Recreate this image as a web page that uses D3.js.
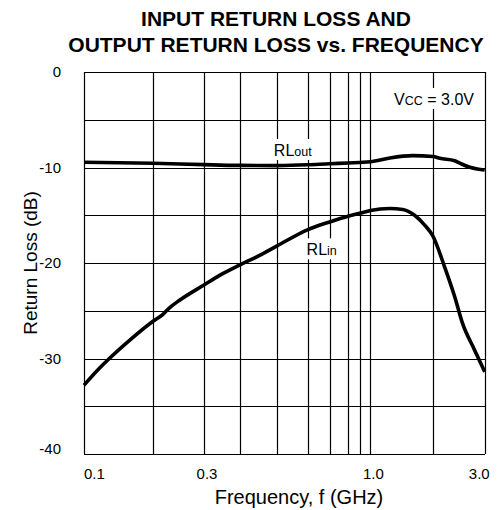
<!DOCTYPE html>
<html>
<head>
<meta charset="utf-8">
<script src="https://cdn.jsdelivr.net/npm/d3@7"></script>
<style>
  body { margin: 0; background: #fff; }
  svg text { font-family: "Liberation Sans", Arial, sans-serif; fill: #000; }
</style>
</head>
<body>
<svg id="chart" width="503" height="510"></svg>
<script>
// grid frequencies (GHz) and where the sheet draws them (px from plot left)
var gridFreqs = [0.1, 0.2, 0.3, 0.4, 0.5, 0.6, 0.7, 0.8, 0.9, 1.0, 2.0, 3.0];
var gridOffsets = [0, 69, 120, 156, 193.2, 224, 245.7, 264, 275.7, 286.4, 349, 400.7];
var xTickValues = [0.1, 0.3, 1.0, 3.0];
var xTickLabels = ["0.1", "0.3", "1.0", "3.0"];
var yTicks = [0, -5, -10, -15, -20, -25, -30, -35, -40];
var yTickLabels = ["0", "-10", "-20", "-30", "-40"];

var rlOutFreq = [0.1, 0.2, 0.3, 0.4, 0.5, 0.6, 0.7, 0.8, 0.9, 1.0, 1.24, 1.6, 2.0, 2.11, 2.37, 2.5, 2.67, 2.83, 3.0];
var rlOutDb   = [-9.45, -9.55, -9.7, -9.78, -9.8, -9.72, -9.6, -9.53, -9.47, -9.4, -9.0, -8.76, -8.85, -9.04, -9.29, -9.63, -9.98, -10.16, -10.26];

var rlInFreq = [0.1, 0.117, 0.129, 0.158, 0.2, 0.216, 0.228, 0.247, 0.3, 0.34, 0.4, 0.45, 0.5, 0.6, 0.7, 0.8, 0.9, 1.0, 1.24, 1.43, 1.63, 1.82, 2.0, 2.19, 2.37, 2.52, 2.77, 3.0];
var rlInDb   = [-32.8, -31.0, -30.0, -28.1, -26.1, -25.4, -24.7, -23.9, -22.3, -21.3, -20.2, -19.2, -18.2, -16.5, -15.7, -15.1, -14.8, -14.5, -14.3, -14.4, -15.0, -16.0, -17.2, -20.4, -23.5, -26.3, -29.1, -31.4];

var margin = { top: 72, right: 18, bottom: 56, left: 84 },
    W = 503, H = 510,
    iw = W - margin.left - margin.right,
    ih = H - margin.top - margin.bottom;

var svg = d3.select('#chart');
var g = svg.append('g').attr('transform', 'translate(' + margin.left + ',' + margin.top + ')');

// log-ish frequency axis, piecewise so it follows the printed grid
var x = (function() {
  var s = d3.scaleLinear()
    .domain(gridFreqs.map(Math.log10))
    .range(gridOffsets);
  return function(f) { return s(Math.log10(f)); };
})();

var y = d3.scaleLinear().domain([0, -40]).range([0, ih]);

// grid
g.append('g').selectAll('line.v')
  .data(gridFreqs)
  .enter().append('line')
    .attr('x1', function(d) { return Math.round(x(d)) + 0.5; })
    .attr('x2', function(d) { return Math.round(x(d)) + 0.5; })
    .attr('y1', 0).attr('y2', ih)
    .attr('stroke', '#000').attr('stroke-width', 1.2);

g.append('g').selectAll('line.h')
  .data(yTicks)
  .enter().append('line')
    .attr('x1', 0).attr('x2', iw)
    .attr('y1', function(d) { return Math.round(y(d)) + 0.5; })
    .attr('y2', function(d) { return Math.round(y(d)) + 0.5; })
    .attr('stroke', '#000').attr('stroke-width', 1.2);

// curves
var line = d3.line()
  .x(function(d) { return x(d[0]); })
  .y(function(d) { return y(d[1]); })
  .curve(d3.curveMonotoneX);

g.append('path')
  .datum(d3.zip(rlOutFreq, rlOutDb))
  .attr('d', line)
  .attr('fill', 'none').attr('stroke', '#000').attr('stroke-width', 3.6);

g.append('path')
  .datum(d3.zip(rlInFreq, rlInDb))
  .attr('d', line)
  .attr('fill', 'none').attr('stroke', '#000').attr('stroke-width', 3.6);

// labels with white backing
function label(f, db, main, sub, rest) {
  var grp = g.append('g');
  var t = grp.append('text')
    .attr('x', x(f)).attr('y', y(db))
    .style('font-size', '16px');
  t.append('tspan').text(main);
  t.append('tspan').style('font-size', '12.5px').text(sub);
  if (rest) t.append('tspan').text(rest);
  var b = t.node().getBBox();
  grp.insert('rect', 'text')
    .attr('x', b.x - 4).attr('y', b.y - 3)
    .attr('width', b.width + 8).attr('height', b.height + 4)
    .attr('fill', '#fff');
}
label(0.49, -8.8, 'RL', 'out');
label(0.595, -19.2, 'RL', 'in');
label(1.3, -3.45, 'V', 'CC', ' = 3.0V');

// y tick labels
svg.append('g').selectAll('text')
  .data(yTickLabels)
  .enter().append('text')
    .attr('x', 61)
    .attr('y', function(d, i) { return margin.top + y(+d) + (i === yTickLabels.length - 1 ? 0 : 5); })
    .attr('text-anchor', 'end')
    .style('font-size', '15px')
    .text(function(d) { return d; });

// x tick labels
svg.append('g').selectAll('text')
  .data(xTickValues)
  .enter().append('text')
    .attr('x', function(d, i) { return margin.left + x(d) + (i === 0 ? 0 : i === xTickValues.length - 1 ? 5 : 3); })
    .attr('y', margin.top + ih + 25)
    .attr('text-anchor', function(d, i) { return i === 0 ? 'start' : i === xTickValues.length - 1 ? 'end' : 'middle'; })
    .style('font-size', '15px')
    .text(function(d, i) { return xTickLabels[i]; });

// axis titles
svg.append('text')
  .attr('x', 299).attr('y', 504)
  .attr('text-anchor', 'middle')
  .style('font-size', '20px')
  .text('Frequency, f (GHz)');

svg.append('text')
  .attr('transform', 'translate(37,' + (margin.top + ih / 2) + ') rotate(-90)')
  .attr('text-anchor', 'middle')
  .style('font-size', '19px')
  .text('Return Loss (dB)');

// title
var title = svg.append('text')
  .attr('text-anchor', 'middle')
  .style('font-size', '21px')
  .style('font-weight', 'bold');
title.append('tspan').attr('x', 276).attr('y', 26).text('INPUT RETURN LOSS AND');
title.append('tspan').attr('x', 276).attr('y', 52).text('OUTPUT RETURN LOSS vs. FREQUENCY');
</script>
</body>
</html>
